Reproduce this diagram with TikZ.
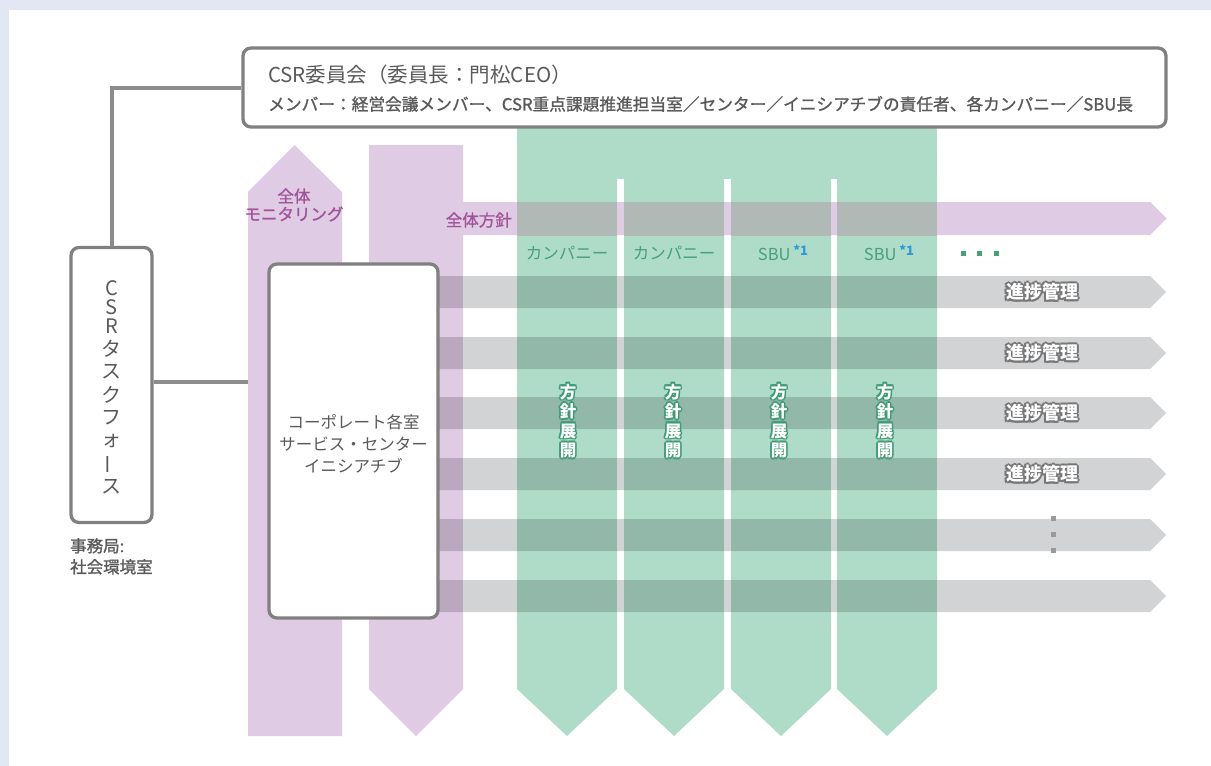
\documentclass[tikz,border=0pt]{standalone}
\usepackage{fontspec}
\setmainfont{Noto Sans CJK JP}
\newfontfamily\medjp[FakeBold=1.2]{Noto Sans CJK JP}
\usetikzlibrary{calc}
\definecolor{bgframe}{HTML}{E1E7F3}
\definecolor{lpurple}{HTML}{E0CBE4}
\definecolor{dpurple}{HTML}{B9A8BE}
\definecolor{lgreen}{HTML}{AFDCC8}
\definecolor{dgreen}{HTML}{91B8A8}
\definecolor{pgmix}{HTML}{B0B9B5}
\definecolor{lgray}{HTML}{D2D3D5}
\definecolor{boxgray}{HTML}{808080}
\definecolor{linegray}{HTML}{8C8C8C}
\definecolor{txtgray}{HTML}{5A5A5A}
\definecolor{purpletxt}{HTML}{A0559A}
\definecolor{greentxt}{HTML}{46A07A}
\definecolor{halogreen}{HTML}{3F9A76}
\definecolor{halogray}{HTML}{777777}
\definecolor{bluetxt}{HTML}{2E9BD6}
\definecolor{dotgray}{HTML}{9A9A9A}
% text with a coloured halo, built inside one box
\newcommand\halotxt[4]{% #1 straight radius, #2 diagonal radius, #3 halo colour, #4 text
  \rlap{\kern#1\textcolor{#3}{#4}}%
  \rlap{\kern-#1\textcolor{#3}{#4}}%
  \rlap{\raisebox{#1}{\textcolor{#3}{#4}}}%
  \rlap{\raisebox{-#1}{\textcolor{#3}{#4}}}%
  \rlap{\kern#2\raisebox{#2}{\textcolor{#3}{#4}}}%
  \rlap{\kern#2\raisebox{-#2}{\textcolor{#3}{#4}}}%
  \rlap{\kern-#2\raisebox{#2}{\textcolor{#3}{#4}}}%
  \rlap{\kern-#2\raisebox{-#2}{\textcolor{#3}{#4}}}%
  \textcolor{white}{#4}}
\newcommand\gh[1]{\halotxt{1.7pt}{1.2pt}{halogreen}{#1}}
\newcommand\progtxt{\halotxt{2pt}{1.45pt}{halogray}{進捗管理}}
\begin{document}
\begin{tikzpicture}[x=1pt,y=-1pt,
  box/.style={draw=boxgray,line width=3.3pt,fill=white,rounded corners=8pt,inner sep=0pt},
  conn/.style={draw=linegray,line width=4pt},
  txt/.style={inner sep=0pt},
  tfchar/.style={txt,text=txtgray,font=\fontsize{20}{20}\selectfont},
  plabel/.style={txt,text=purpletxt,align=center,font=\medjp\fontsize{16.5}{18}\selectfont},
  glabel/.style={txt,text=greentxt,font=\fontsize{16.5}{20}\selectfont},
  vlabel/.style={txt,align=center,font=\bfseries\fontsize{16.5}{19.5}\selectfont},
  prlabel/.style={txt,font=\bfseries\fontsize{18}{20}\selectfont},
  sq/.style={minimum size=5pt,inner sep=0pt}
]
\useasboundingbox (0,0) rectangle (1211,766);
\fill[bgframe] (0,0) rectangle (1211,766);
\fill[white] (9,10) rectangle (1211,766);

% purple shapes
\fill[lpurple] (248,192) -- (294.5,145) -- (342,192) -- (342,736) -- (248,736) -- cycle;
\fill[lpurple] (369,145) -- (463,145) -- (463,689) -- (416,736) -- (369,689) -- cycle;
\fill[lpurple] (450,202) -- (1150,202) -- (1166.5,218.5) -- (1150,235) -- (450,235) -- cycle;

% gray bands
\foreach \t in {276,337,397,458,519,580}
  \fill[lgray] (400,\t) -- (1150,\t) -- (1166,\t+16) -- (1150,\t+32) -- (400,\t+32) -- cycle;

% green columns
\fill[lgreen] (517,120) rectangle (937,179);
\foreach \L in {517,624,731,837}
  \fill[lgreen] (\L,178) -- (\L+100,178) -- (\L+100,689) -- (\L+50,736) -- (\L,689) -- cycle;

% overlaps with the bands
\begin{scope}
  \clip (400,276) rectangle (1166,308) (400,337) rectangle (1166,369)
        (400,397) rectangle (1166,429) (400,458) rectangle (1166,490)
        (400,519) rectangle (1166,551) (400,580) rectangle (1166,612);
  \foreach \L in {517,624,731,837}
    \fill[dgreen] (\L,178) rectangle (\L+100,689);
  \fill[dpurple] (369,145) rectangle (463,689);
\end{scope}
\begin{scope}
  \clip (450,202) rectangle (1166,235);
  \foreach \L in {517,624,731,837}
    \fill[pgmix] (\L,178) rectangle (\L+100,689);
\end{scope}

% boxes
\node[box,minimum width=923pt,minimum height=79pt] (committee) at (704.5,87.5) {};
\node[box,minimum width=81pt,minimum height=275pt] (taskforce) at (111.5,385) {};
\node[box,minimum width=169pt,minimum height=354pt] (corp) at (353.5,441) {};

% connectors
\coordinate (monL) at (248,382);
\draw[conn] (committee.west) -| (taskforce.north);
\draw[conn] (taskforce.east |- monL) -- (monL);

% committee texts
\node[txt,anchor=west,text=txtgray,font=\fontsize{20.5}{24}\selectfont] (ctitle) at (268,75)
  {CSR委員会（委員長：門松CEO）};
\node[txt,anchor=west,text=txtgray,font=\medjp\fontsize{16.7}{18}\selectfont] (cmembers) at (268,104)
  {メンバー：経営会議メンバー、CSR重点課題推進担当室／センター／イニシアチブの責任者、各カンパニー／SBU長};

% task force vertical text
\foreach \ch/\yy [count=\i] in {C/288,S/307,R/326,タ/349,ス/372,ク/395,フ/418,ォ/441,{\rotatebox{90}{ー}}/464,ス/487}
  \node[tfchar] (tf\i) at (111.5,\yy) {\ch};

\node[txt,anchor=north west,align=left,text=txtgray,font=\medjp\fontsize{16.5}{21}\selectfont] (secretariat) at (70,538)
  {事務局:\\社会環境室};

% purple labels
\node[plabel] (monitor) at (294,205) {全体\\モニタリング};
\node[plabel,anchor=east] (policy) at (512,220) {全体方針};

% corporate box text
\node[txt,align=center,text=txtgray,font=\fontsize{16.5}{22}\selectfont] (corptext) at (353.5,444)
  {コーポレート各室\\サービス・センター\\イニシアチブ};

% column labels
\node[glabel] (co1) at (567,253) {カンパニー};
\node[glabel] (co2) at (674,253) {カンパニー};
\node[glabel] (sbu1) at (783,253) {SBU\,\raisebox{5.5pt}{\fontsize{13}{13}\selectfont\bfseries\color{bluetxt}*1}};
\node[glabel] (sbu2) at (889,253) {SBU\,\raisebox{5.5pt}{\fontsize{13}{13}\selectfont\bfseries\color{bluetxt}*1}};
\node[sq,fill=greentxt] (hd1) at (963,253) {};
\node[sq,fill=greentxt] (hd2) at (979.5,253) {};
\node[sq,fill=greentxt] (hd3) at (996,253) {};

% 方針展開
\foreach \x [count=\i] in {568,673,779,885}
  \node[vlabel] (dep\i) at (\x,421) {\gh{方}\\\gh{針}\\\gh{展}\\\gh{開}};

% 進捗管理
\foreach \y [count=\i] in {292,353,413,474}
  \node[prlabel] (prog\i) at (1042,\y) {\progtxt};

\node[sq,fill=dotgray] (vd1) at (1053,518) {};
\node[sq,fill=dotgray] (vd2) at (1053,534) {};
\node[sq,fill=dotgray] (vd3) at (1053,550) {};
\end{tikzpicture}
\end{document}
